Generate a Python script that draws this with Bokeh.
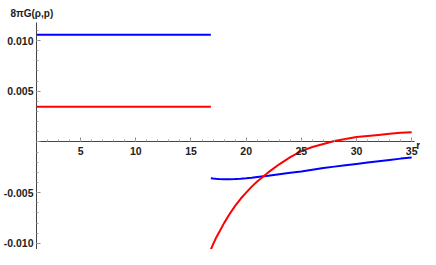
from bokeh.plotting import figure
from bokeh.models import (Range1d, FixedTicker, PrintfTickFormatter, LinearAxis,
                          Title)
from bokeh.embed import file_html
from bokeh.resources import INLINE

# ---- data ----
r_const = [1.0, 16.8]
rho_const = [0.01058, 0.01058]
p_const = [0.00348, 0.00348]

r_out = [16.8, 17.0, 17.25, 17.5, 18.0, 18.5, 19.0, 19.5, 20.0, 20.5, 21.0,
         22.0, 23.0, 24.0, 25.0, 26.0, 27.0, 28.0, 29.0, 30.0, 31.0, 32.0,
         33.0, 34.0, 35.0]
rho_out = [-0.00357, -0.00360, -0.00363, -0.00365, -0.00367, -0.00367, -0.00365,
           -0.00362, -0.00358, -0.00353, -0.00345, -0.00332, -0.00318, -0.00304,
           -0.00290, -0.00273, -0.00257, -0.00243, -0.00229, -0.00216, -0.00203,
           -0.00190, -0.00177, -0.00164, -0.00153]
p_out = [-0.0106, -0.0101, -0.0095, -0.0090, -0.0080, -0.0071, -0.0063, -0.0056,
         -0.0050, -0.0044, -0.0039, -0.0030, -0.0022, -0.0015, -0.0009, -0.0005,
         -0.0002, 0.0001, 0.0003, 0.0005, 0.0006, 0.0007, 0.0008, 0.0009, 0.00097]

x_major = [5, 10, 15, 20, 25, 30, 35]
x_minor = list(range(1, 36))
y_major = [-0.010, -0.005, 0.0, 0.005, 0.010]
y_minor = [k / 1000 for k in range(-11, 12)]
x_name_pos = [35.62]
x_name = "r"
y_name = "8πG(ρ,p)"

BLUE = "#0000ff"
RED = "#ff0000"

p = figure(width=420, height=249, x_range=Range1d(1, 35.8),
           y_range=Range1d(-0.0106, 0.01178), output_backend="svg",
           toolbar_location=None, min_border_left=36, min_border_right=0,
           min_border_top=22, min_border_bottom=0)
p.outline_line_color = None
p.xgrid.visible = False
p.ygrid.visible = False
p.background_fill_color = "white"
p.border_fill_color = "white"

p.line(r_const, rho_const, line_color=BLUE, line_width=2)
p.line(r_const, p_const, line_color=RED, line_width=2)
p.line(r_out, rho_out, line_color=BLUE, line_width=2)
p.line(r_out, p_out, line_color=RED, line_width=2)

name_axis = LinearAxis(fixed_location=0,
                       ticker=FixedTicker(ticks=x_name_pos, minor_ticks=[]),
                       major_label_overrides={x_name_pos[0]: x_name})
p.add_layout(name_axis, "below")

for ax in (p.xaxis[0], p.yaxis[0], name_axis):
    ax.axis_line_color = "#444444"
    ax.axis_line_width = 1
    ax.major_tick_line_color = "#888888"
    ax.minor_tick_line_color = "#aaaaaa"
    ax.major_tick_in = 4
    ax.major_tick_out = 0
    ax.minor_tick_in = 2
    ax.minor_tick_out = 0
    ax.major_label_text_font = "Liberation Sans"
    ax.major_label_text_font_style = "bold"
    ax.major_label_text_font_size = "10.5px"
    ax.major_label_text_color = "#222222"

xa = p.xaxis[0]
xa.fixed_location = 0
xa.bounds = (1, 35.3)
xa.ticker = FixedTicker(ticks=x_major, minor_ticks=x_minor)
xa.major_label_standoff = 5
ya = p.yaxis[0]
ya.ticker = FixedTicker(ticks=y_major, minor_ticks=y_minor)
ya.formatter = PrintfTickFormatter(format="%.3f")
ya.major_label_overrides = {0.0: ""}
ya.major_label_standoff = 3

name_axis.axis_line_color = None
name_axis.major_tick_line_color = None
name_axis.minor_tick_line_color = None
name_axis.major_label_standoff = -3

p.add_layout(Title(text=y_name, align="left", offset=-26, standoff=8,
                   text_font="Liberation Sans", text_font_style="bold",
                   text_font_size="10px", text_color="#222222"), "above")

open("out.html", "w").write(file_html(p, INLINE))
